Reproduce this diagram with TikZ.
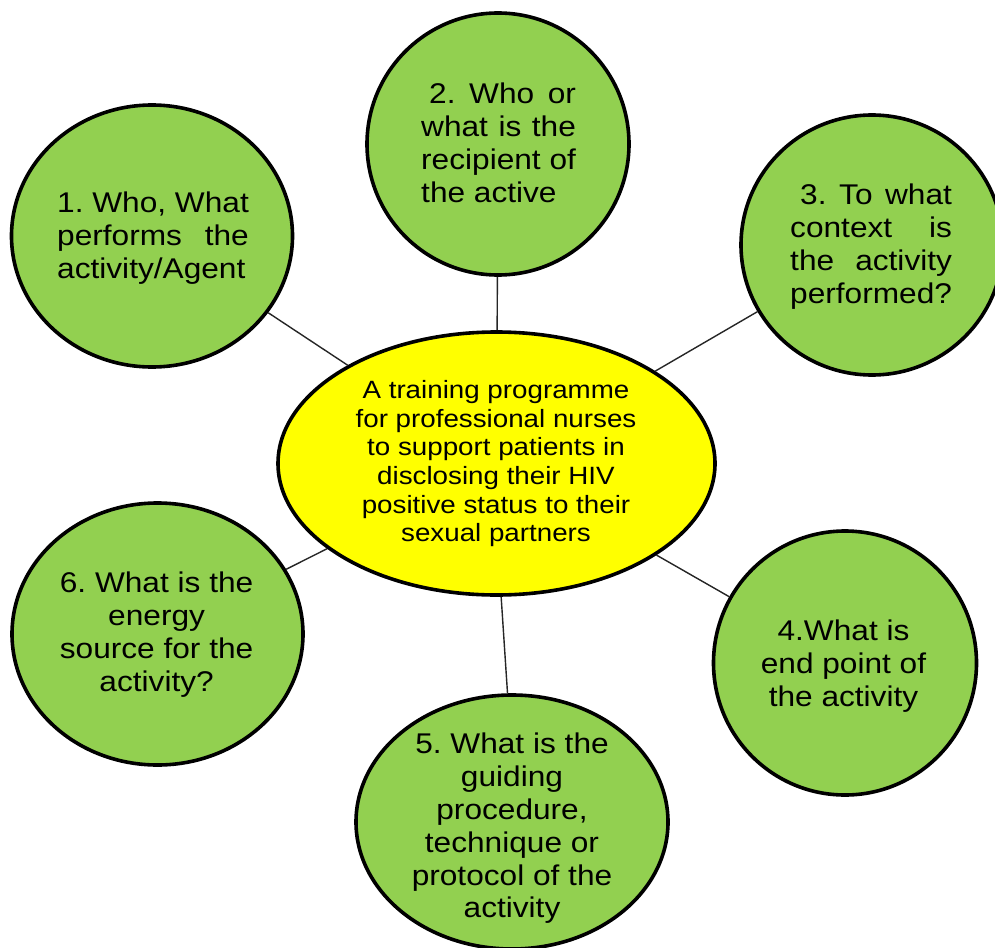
\documentclass[tikz,border=0pt]{standalone}
\usepackage{fontspec}
\setmainfont[FakeStretch=1.11]{Liberation Sans}
\usetikzlibrary{shapes.geometric}
\newlength\blk
\newcommand\setblk[1]{\settowidth{\blk}{#1}\global\blk=\blk}
\newcommand\jl[1]{\makebox[\blk][s]{#1}}
\definecolor{bubblegreen}{RGB}{146,208,80}
\definecolor{coreyellow}{RGB}{255,255,0}
\begin{document}
\frenchspacing
\begin{tikzpicture}[x=1pt,y=-1pt,
  bubble/.style={shape=ellipse, draw=black, line width=3.6pt, fill=bubblegreen, inner sep=0pt},
  corebox/.style={shape=ellipse, draw=black, line width=3.6pt, fill=coreyellow, inner sep=0pt},
  qtext/.style={inner sep=0pt, font=\fontsize{28.5}{32.8}\selectfont, text=black},
  ctext/.style={inner sep=0pt, font=\fontsize{25}{28.7}\selectfont, text=black},
  link/.style={line width=1.4pt, draw=black!85}]
\useasboundingbox (0,0) rectangle (995,947);
\clip (0,0) rectangle (995,947);
\fill[white] (0,0) rectangle (995,947);

\node[bubble, minimum width=281pt, minimum height=262pt] (q1) at (152,236) {};
\node[bubble, minimum width=262pt, minimum height=262pt] (q2) at (498,144) {};
\node[bubble, minimum width=262pt, minimum height=260pt] (q3) at (872,245) {};
\node[bubble, minimum width=263pt, minimum height=264pt] (q4) at (845,663) {};
\node[bubble, minimum width=312pt, minimum height=254pt] (q5) at (512,822) {};
\node[bubble, minimum width=291pt, minimum height=262pt] (q6) at (157.5,634) {};
\node[corebox, minimum width=437pt, minimum height=263pt] (core) at (496.5,463.5) {};

\draw[link] (core) -- (q1);
\draw[link] (core) -- (q2);
\draw[link] (core) -- (q3);
\draw[link] (core) -- (q4);
\draw[link] (core.272.4) -- (q5.92.7);
\draw[link] (core) -- (q6);

\node[qtext, anchor=north west, align=left] (t1) at (57,192)
  {\setblk{1. Who, What}\jl{1. Who, What}\\\jl{performs the}\\activity/Agent};
\node[qtext, anchor=north west, align=left] (t2) at (421,83)
  {\setblk{recipient of}\makebox[\blk][s]{\hspace*{8pt}2. Who or}\\\jl{what is the}\\recipient of\\the active};
\node[qtext, anchor=north west, align=left] (t3) at (790,184)
  {\setblk{performed?}\makebox[\blk][s]{\hspace*{10pt}3. To what}\\\jl{context is}\\\jl{the activity}\\performed?};
\node[qtext, anchor=north, align=center] (t4) at (843.5,620)
  {4.What is\\end point of\\the activity};
\node[qtext, anchor=north, align=center] (t5) at (512,733)
  {5. What is the\\guiding\\procedure,\\technique or\\protocol of the\\activity};
\node[qtext, anchor=north, align=center] (t6) at (156.6,572)
  {6. What is the\\energy\\source for the\\activity?};
\node[ctext, anchor=north, align=center] (tc) at (496,380)
  {A training programme\\for professional nurses\\to support patients in\\disclosing their HIV\\positive status to their\\sexual partners};
\end{tikzpicture}
\end{document}
